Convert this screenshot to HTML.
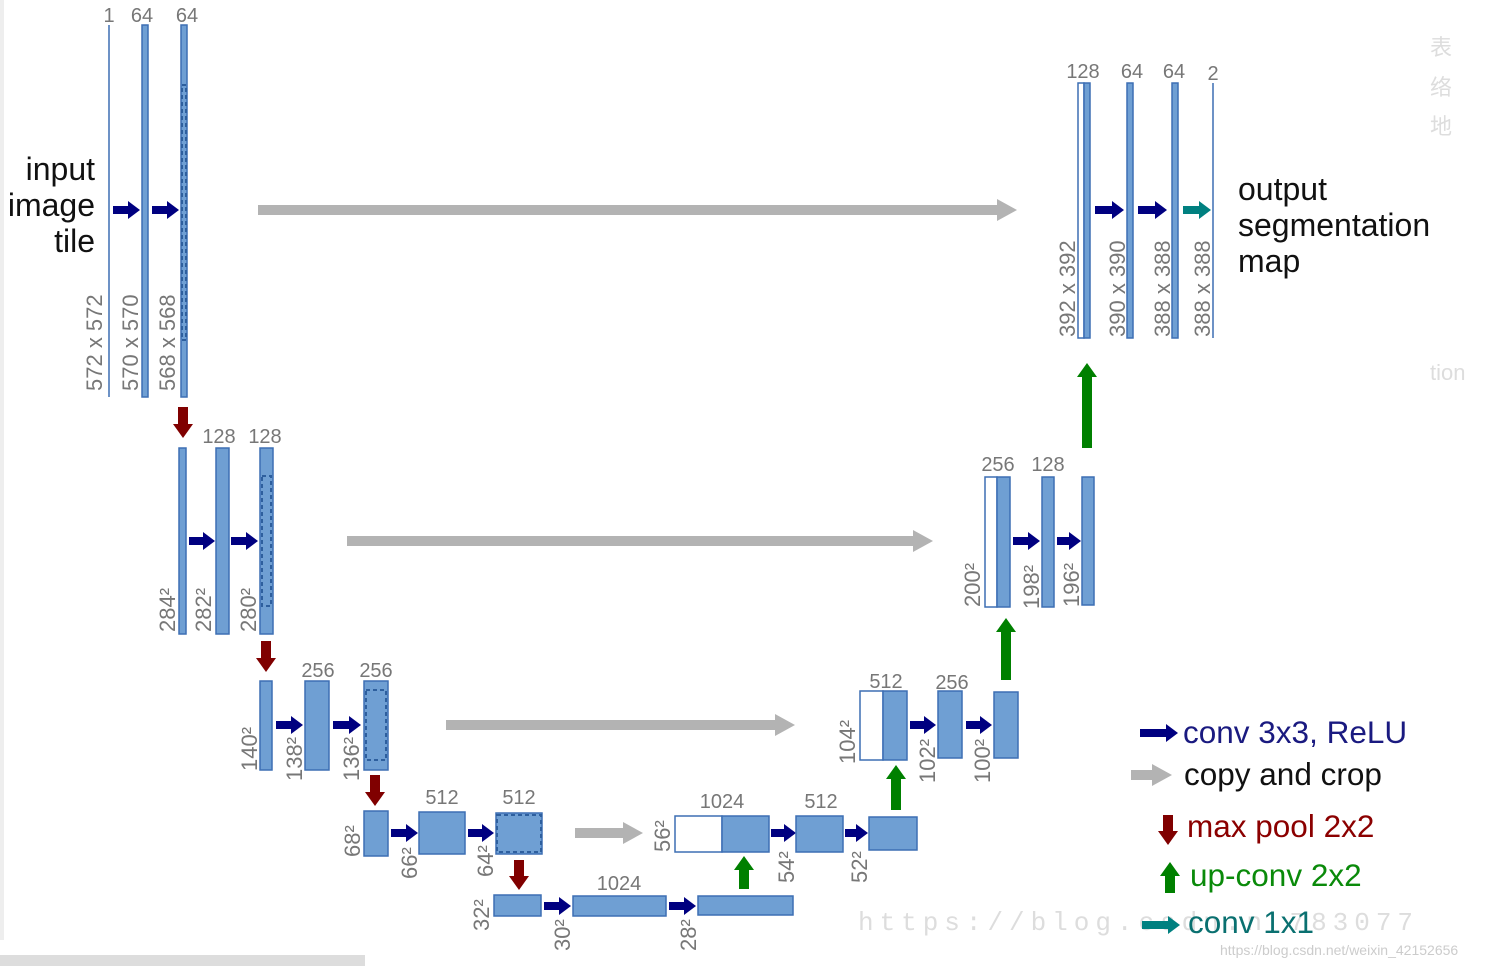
<!DOCTYPE html>
<html><head><meta charset="utf-8"><style>
html,body{margin:0;padding:0;background:#fff;}
svg{display:block}
text{font-family:"Liberation Sans","Noto Sans CJK SC",sans-serif;}
.l{fill:#777;font-size:20px;}
.r{fill:#777;font-size:22px;}
.b{fill:#6f9fd3;stroke:#3d6fb4;stroke-width:1.5}
.w{fill:#fff;stroke:#3d6fb4;stroke-width:1.5}
.d{fill:none;stroke:#2e5f9e;stroke-width:2;stroke-dasharray:4 3}
.big{font-size:32px;fill:#111}
.lg{font-size:31.5px}
</style></head><body>
<svg id="s" width="1501" height="966" viewBox="0 0 1501 966" xmlns="http://www.w3.org/2000/svg">
<rect x="0" y="955" width="365" height="11" fill="#ddd"/>
<rect x="0" y="0" width="4" height="940" fill="#eee"/>
<text x="858" y="930" style="font-size:26px;fill:#ddd;font-family:'Liberation Mono',monospace" textLength="555">https://blog.csdn.n        783077</text>
<g id="arrows"></g>
<line x1="109" y1="25" x2="109" y2="397" stroke="#3d6fb4" stroke-width="1.5"/>
<rect class="b" x="142" y="25" width="6" height="372"/>
<rect class="b" x="181" y="25" width="6" height="372"/>
<rect class="d" x="182" y="85" width="4" height="255"/>
<text class="l" x="109" y="22" text-anchor="middle">1</text>
<text class="l" x="142" y="22" text-anchor="middle">64</text>
<text class="l" x="187" y="22" text-anchor="middle">64</text>
<text class="r" transform="translate(102,391) rotate(-90)">572 x 572</text>
<text class="r" transform="translate(138,391) rotate(-90)">570 x 570</text>
<text class="r" transform="translate(175,391) rotate(-90)">568 x 568</text>
<text class="big" x="95" y="180" text-anchor="end">input</text>
<text class="big" x="95" y="216" text-anchor="end">image</text>
<text class="big" x="95" y="252" text-anchor="end">tile</text>
<rect class="b" x="179" y="448" width="7" height="186"/>
<rect class="b" x="216" y="448" width="13" height="186"/>
<rect class="b" x="260" y="448" width="13" height="186"/>
<rect class="d" x="262" y="476" width="9" height="130"/>
<text class="l" x="219" y="443" text-anchor="middle">128</text>
<text class="l" x="265" y="443" text-anchor="middle">128</text>
<text class="r" transform="translate(175,632) rotate(-90)">284²</text>
<text class="r" transform="translate(211,632) rotate(-90)">282²</text>
<text class="r" transform="translate(256,632) rotate(-90)">280²</text>
<rect class="b" x="260" y="681" width="12" height="89"/>
<rect class="b" x="305" y="681" width="24" height="89"/>
<rect class="b" x="364" y="681" width="24" height="89"/>
<rect class="d" x="366" y="690" width="20" height="70"/>
<text class="l" x="318" y="677" text-anchor="middle">256</text>
<text class="l" x="376" y="677" text-anchor="middle">256</text>
<text class="r" transform="translate(257,771) rotate(-90)">140²</text>
<text class="r" transform="translate(302,781) rotate(-90)">138²</text>
<text class="r" transform="translate(359,781) rotate(-90)">136²</text>
<rect class="b" x="364" y="811" width="24" height="45"/>
<rect class="b" x="419" y="812" width="46" height="42"/>
<rect class="b" x="496" y="813" width="46" height="41"/>
<rect class="d" x="497" y="815" width="44" height="37"/>
<text class="l" x="442" y="804" text-anchor="middle">512</text>
<text class="l" x="519" y="804" text-anchor="middle">512</text>
<text class="r" transform="translate(360,857) rotate(-90)">68²</text>
<text class="r" transform="translate(417,879) rotate(-90)">66²</text>
<text class="r" transform="translate(493,877) rotate(-90)">64²</text>
<rect class="b" x="494" y="895" width="47" height="21"/>
<rect class="b" x="573" y="896" width="93" height="20"/>
<rect class="b" x="698" y="896" width="95" height="19"/>
<text class="l" x="619" y="890" text-anchor="middle">1024</text>
<text class="r" transform="translate(489,931) rotate(-90)">32²</text>
<text class="r" transform="translate(570,951) rotate(-90)">30²</text>
<text class="r" transform="translate(696,951) rotate(-90)">28²</text>
<rect class="w" x="675" y="816" width="47" height="36"/>
<rect class="b" x="722" y="816" width="47" height="36"/>
<rect class="b" x="796" y="816" width="47" height="36"/>
<rect class="b" x="869" y="817" width="48" height="33"/>
<text class="l" x="722" y="808" text-anchor="middle">1024</text>
<text class="l" x="821" y="808" text-anchor="middle">512</text>
<text class="r" transform="translate(670,852) rotate(-90)">56²</text>
<text class="r" transform="translate(794,883) rotate(-90)">54²</text>
<text class="r" transform="translate(867,883) rotate(-90)">52²</text>
<rect class="w" x="860" y="691" width="23" height="69"/>
<rect class="b" x="883" y="691" width="24" height="69"/>
<rect class="b" x="938" y="691" width="24" height="67"/>
<rect class="b" x="994" y="692" width="24" height="66"/>
<text class="l" x="886" y="688" text-anchor="middle">512</text>
<text class="l" x="952" y="689" text-anchor="middle">256</text>
<text class="r" transform="translate(855,764) rotate(-90)">104²</text>
<text class="r" transform="translate(935,783) rotate(-90)">102²</text>
<text class="r" transform="translate(990,783) rotate(-90)">100²</text>
<rect class="w" x="985" y="477" width="12" height="130"/>
<rect class="b" x="997" y="477" width="13" height="130"/>
<rect class="b" x="1042" y="477" width="12" height="130"/>
<rect class="b" x="1082" y="477" width="12" height="128"/>
<text class="l" x="998" y="471" text-anchor="middle">256</text>
<text class="l" x="1048" y="471" text-anchor="middle">128</text>
<text class="r" transform="translate(980,607) rotate(-90)">200²</text>
<text class="r" transform="translate(1039,609) rotate(-90)">198²</text>
<text class="r" transform="translate(1079,607) rotate(-90)">196²</text>
<rect class="w" x="1078" y="83" width="6" height="255"/>
<rect class="b" x="1084" y="83" width="6" height="255"/>
<rect class="b" x="1127" y="83" width="6" height="255"/>
<rect class="b" x="1172" y="83" width="6" height="255"/>
<line x1="1213" y1="83" x2="1213" y2="338" stroke="#3d6fb4" stroke-width="1.5"/>
<text class="l" x="1083" y="78" text-anchor="middle">128</text>
<text class="l" x="1132" y="78" text-anchor="middle">64</text>
<text class="l" x="1174" y="78" text-anchor="middle">64</text>
<text class="l" x="1213" y="80" text-anchor="middle">2</text>
<text class="r" transform="translate(1075,337) rotate(-90)">392 x 392</text>
<text class="r" transform="translate(1125,337) rotate(-90)">390 x 390</text>
<text class="r" transform="translate(1170,337) rotate(-90)">388 x 388</text>
<text class="r" transform="translate(1210,337) rotate(-90)">388 x 388</text>
<text class="big" x="1238" y="200">output</text>
<text class="big" x="1238" y="236">segmentation</text>
<text class="big" x="1238" y="272">map</text>
<text class="lg" x="1183" y="743" style="fill:#1a1a80">conv 3x3, ReLU</text>
<text class="lg" x="1184" y="785" style="fill:#111">copy and crop</text>
<text class="lg" x="1187" y="837" style="fill:#8b0000">max pool 2x2</text>
<text class="lg" x="1190" y="886" style="fill:#0a8a0a">up-conv 2x2</text>
<text class="lg" x="1188" y="933" style="fill:#0a7070">conv 1x1</text>
<text x="1220" y="955" style="font-size:14px;fill:#ccc">https://blog.csdn.net/weixin_42152656</text>
<text x="1430" y="55" style="font-size:22px;fill:#ddd">表</text>
<text x="1430" y="95" style="font-size:22px;fill:#ddd">络</text>
<text x="1430" y="134" style="font-size:22px;fill:#ddd">地</text>
<text x="1430" y="380" style="font-size:22px;fill:#ddd">tion</text>
</svg>
<script>
var g=document.getElementById('arrows'),NS='http://www.w3.org/2000/svg';
function poly(pts,c){var p=document.createElementNS(NS,'polygon');p.setAttribute('points',pts.map(a=>a.join(',')).join(' '));p.setAttribute('fill',c);g.appendChild(p);}
function h(x1,x2,y,c,t,hw,hl){t=t||4;hw=hw||9;hl=hl||12;poly([[x1,y-t],[x2-hl,y-t],[x2-hl,y-hw],[x2,y],[x2-hl,y+hw],[x2-hl,y+t],[x1,y+t]],c);}
function v(x,y1,y2,c){var t=5,hw=10,hl=14,s=y2>y1?1:-1;poly([[x-t,y1],[x-t,y2-s*hl],[x-hw,y2-s*hl],[x,y2],[x+hw,y2-s*hl],[x+t,y2-s*hl],[x+t,y1]],c);}
var N='#000080',G='#b3b3b3',R='#800000',Gr='#008000',T='#008080';
[[113,140,210],[152,179,210],[189,215,541],[231,258,541],[276,303,725],[333,361,725],[391,418,833],[468,494,833],[544,571,906],[669,696,906],[771,796,833],[845,868,833],[910,936,725],[966,992,725],[1013,1040,541],[1057,1081,541],[1095,1124,210],[1138,1167,210],[1140,1178,733]].forEach(a=>h(a[0],a[1],a[2],N));
h(1183,1211,210,T);h(1142,1180,925,T);
[[258,1017,210],[347,933,541],[446,795,725],[575,643,833],[1131,1172,775]].forEach(a=>h(a[0],a[1],a[2],G,5,11,20));
v(183,407,438,R);v(266,641,672,R);v(375,775,806,R);v(519,860,890,R);v(1168,815,845,R);
v(744,889,856,Gr);v(896,810,765,Gr);v(1006,680,618,Gr);v(1087,448,363,Gr);v(1170,893,862,Gr);
</script>
</body></html>
